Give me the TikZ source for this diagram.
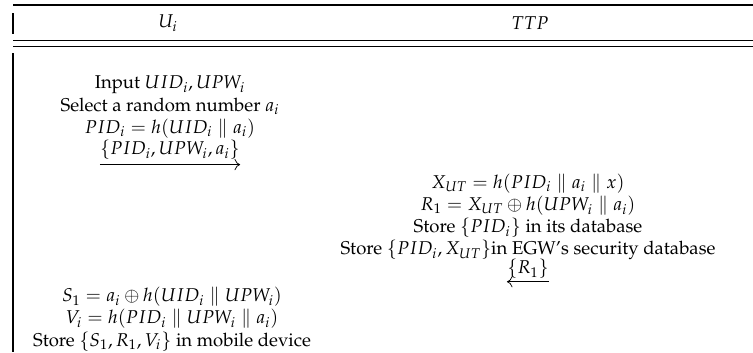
\documentclass[tikz,border=0pt]{standalone}
\usepackage{amsmath, amssymb}
\usepackage[T1]{fontenc}
\usepackage{mathpazo}
\usetikzlibrary{positioning,arrows.meta}

\begin{document}
\begin{tikzpicture}[x=0.54pt, y=-0.54pt,
    cell/.style={align=center, inner sep=0pt},
    msg/.style={inner sep=0pt},
    rule/.style={line width=0.5pt},
    arr/.style={-{To[length=3pt,width=6pt]}, line width=0.4pt},
]
\useasboundingbox (0,0) rectangle (753,352);

% table frame
\draw[line width=1pt] (13,5) -- (753,5);
\draw[rule] (13,40) -- (753,40);
\draw[rule] (13,46) -- (753,46);
\draw[line width=0.6pt] (13,13) -- (13,34);
\draw[line width=0.6pt] (13,53) -- (13,352);

% header
\node[cell] (hu) at (168,23) {$U_i$};
\node[cell] (ht) at (530,23) {$TTP$};

% user side: registration request
\node[cell] (ureq) at (170,107) {Input $UID_i, UPW_i$\\
    Select a random number $a_i$\\
    $PID_i = h(UID_i \parallel a_i)$};
\node[msg] (m1) at (170,150) {$\{PID_i, UPW_i, a_i\}$};
\coordinate (m1s) at ([yshift=-2.5pt]m1.south west);
\coordinate (m1e) at ([yshift=-2.5pt]m1.south east);
\draw[arr] (m1s) -- (m1e);

% server side
\node[cell] (tcomp) at (528,217) {$X_{UT} = h(PID_i \parallel a_i \parallel x)$\\
    $R_1 = X_{UT} \oplus h(UPW_i \parallel a_i)$\\
    Store $\{PID_i\}$ in its database\\
    Store $\{PID_i, X_{UT}\}$in EGW's security database};
\node[msg] (m2) at (528,269) {$\{R_1\}$};
\coordinate (m2s) at ([yshift=-1.5pt]m2.south east);
\coordinate (m2e) at ([yshift=-1.5pt]m2.south west);
\draw[arr] (m2s) -- (m2e);

% user side: storing
\node[cell] (ustore) at (172,319) {$S_1 = a_i \oplus h(UID_i \parallel UPW_i)$\\
    $V_i = h(PID_i \parallel UPW_i \parallel a_i)$\\
    Store $\{S_1, R_1, V_i\}$ in mobile device};
\end{tikzpicture}
\end{document}
